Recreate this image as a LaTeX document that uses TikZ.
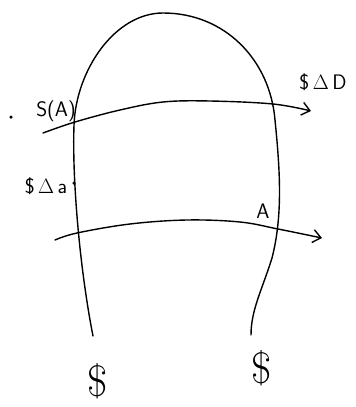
\documentclass[tikz,border=0pt]{standalone}
\usepackage{tikz}
\usetikzlibrary{arrows.meta}

\begin{document}
\begin{tikzpicture}[
  x=1pt, y=-1pt,
  line width=1.4pt,
  curve/.style={draw=black, line cap=round, line join=round},
  flow/.style={curve, -{Straight Barb[length=8pt,width=13pt,line width=1.4pt]}},
  lbl/.style={font=\sffamily\fontsize{21}{23}\selectfont, inner sep=0pt},
  big/.style={font=\fontsize{44}{48}\selectfont, inner sep=0pt},
  pt/.style={circle, fill=black, inner sep=0pt, minimum size=3.5pt}
]
  \useasboundingbox (0,0) rectangle (356,407);

  % --- closed-top boundary ---
  \coordinate (bl) at (93,336);
  \coordinate (br) at (251,335);
  \draw[curve] (bl) .. controls (80,270) and (72,180) .. (74,125)
    .. controls (76,70) and (115,13) .. (163,13)
    .. controls (225,13) and (270,60) .. (275,120)
    .. controls (280,170) and (283,215) .. (272,258)
    .. controls (262,290) and (251,310) .. (br);

  % --- points and labels ---
  \node[pt] (dot) at (11,117) {};
  \node[lbl] (sa) at (56,111) {S(A)};
  \node[lbl] (dD) at (323,82) {\$\,$\Delta$\,D};
  \node[lbl] (da) at (46,186) {\$\,$\Delta$\,a};
  \node[pt] (mark) at (74,183) {};
  \node[lbl] (aa) at (263,211) {A};
  \node[big] (dl) at (98,381) {\$};
  \node[big] (dr) at (262,368) {\$};

  % --- upper flow line ---
  \coordinate (u0) at (43,133);
  \coordinate (u1) at (311,111);
  \draw[flow] plot[smooth, tension=0.6] coordinates {
    (u0) (75,122) (120,110) (163,102) (210,101) (273,104) (u1)};

  % --- lower flow line ---
  \coordinate (w0) at (55,240);
  \coordinate (w1) at (322,238);
  \draw[flow] plot[smooth, tension=0.6] coordinates {
    (w0) (77,233) (130,224) (187,220) (240,222) (278,229) (w1)};

\end{tikzpicture}
\end{document}
